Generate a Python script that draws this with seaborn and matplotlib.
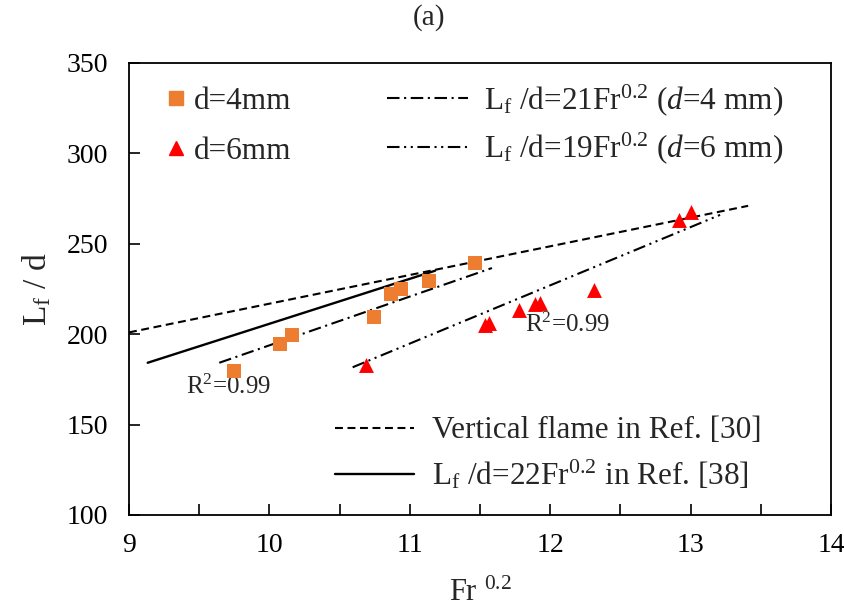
import numpy as np
import pandas as pd
import matplotlib
matplotlib.use("Agg")
import matplotlib.pyplot as plt
from matplotlib.lines import Line2D
import seaborn as sns

# ---------------- data ----------------
fr4 = [9.75, 10.075, 10.163, 10.745, 10.864, 10.937, 11.137, 11.464]
lf4 = [179.6, 194.7, 199.7, 209.5, 222.4, 224.8, 229.6, 239.5]

fr6 = [10.69, 11.536, 11.566, 11.78, 11.89, 11.93, 12.314, 12.92, 13.0]
lf6 = [183.0, 205.1, 206.0, 213.4, 216.7, 217.4, 224.4, 263.2, 267.8]

fit4_x = [9.643, 11.585]
fit4_y = [184.2, 236.6]
fit6_x = [10.593, 13.21]
fit6_y = [181.7, 266.0]
ref30_x = [9.0, 13.41]
ref30_y = [201.0, 271.0]
ref38_x = [9.133, 11.18]
ref38_y = [184.2, 235.1]

x_ticks = [9, 10, 11, 12, 13, 14]
y_ticks = [100, 150, 200, 250, 300, 350]

# ---------------- style ----------------
sns.set_style("ticks")
plt.rcParams["font.family"] = ["Liberation Serif", "DejaVu Serif"]
plt.rcParams["mathtext.fontset"] = "custom"
plt.rcParams["mathtext.rm"] = "Liberation Serif"
plt.rcParams["mathtext.it"] = "Liberation Serif:italic"
plt.rcParams["mathtext.bf"] = "Liberation Serif:bold"

ORANGE = "#ED7D31"
RED = "#FF0000"
LW = 1.5
ls_dash = (0, (3.8, 2.2))
ls_dd4 = (0, (6, 2.2, 1.0, 2.2))
ls_dd6 = (0, (6, 2.2, 1.0, 2.2, 1.0, 2.2))
LEGFS = 22.5

fig = plt.figure(figsize=(8.45, 6.13), dpi=100)
ax = fig.add_axes([129 / 845, 1 - 515 / 613, 702 / 845, 452 / 613])

df4 = pd.DataFrame({"x": fr4, "y": lf4})
df6 = pd.DataFrame({"x": fr6, "y": lf6})

# fitted / reference lines
sns.lineplot(x=ref30_x, y=ref30_y, ax=ax, color="black", lw=LW, linestyle=ls_dash)
sns.lineplot(x=ref38_x, y=ref38_y, ax=ax, color="black", lw=1.7, linestyle="-")
sns.lineplot(x=fit4_x, y=fit4_y, ax=ax, color="black", lw=LW, linestyle=ls_dd4)
sns.lineplot(x=fit6_x, y=fit6_y, ax=ax, color="black", lw=LW, linestyle=ls_dd6)

# data points
sns.scatterplot(data=df4, x="x", y="y", ax=ax, marker="s", s=115, color=ORANGE,
                edgecolor=ORANGE, linewidth=0, zorder=5)
sns.scatterplot(data=df6, x="x", y="y", ax=ax, marker="^", s=115, color=RED,
                edgecolor=RED, linewidth=0, zorder=5)

ax.set_xlim(9, 14)
ax.set_ylim(100, 350)
ax.set_xticks(x_ticks)
ax.set_xticks(np.arange(9.5, 14, 1.0), minor=True)
ax.set_yticks(y_ticks)
ax.tick_params(axis="both", which="both", direction="in", length=8, width=1.2,
               top=False, right=False, labelsize=20, colors="black")
ax.tick_params(axis="x", which="major", pad=13)
ax.tick_params(axis="y", which="major", pad=15)
for sp in ax.spines.values():
    sp.set_visible(True)
    sp.set_color("black")
    sp.set_linewidth(1.3)

ax.set_xlabel(r"Fr $^{0.2}$", fontsize=22, labelpad=15)
ax.set_ylabel(r"L$_\mathrm{f}$ / d", fontsize=24, labelpad=10)
fig.text(0.508, 0.972, "(a)", ha="center", va="center", fontsize=21)

# R^2 annotations
ax.text(9.406, 170.8, r"R$^2$=0.99", fontsize=18, ha="left", va="center")
ax.text(11.82, 205.1, r"R$^2$=0.99", fontsize=18, ha="left", va="center")

# legends
h1 = [Line2D([], [], marker="s", color=ORANGE, linestyle="none", markersize=10),
      Line2D([], [], marker="^", color=RED, linestyle="none", markersize=10)]
leg1 = ax.legend(h1, ["d=4mm", "d=6mm"], loc="upper left",
                 bbox_to_anchor=(0.056, 0.947), frameon=False, fontsize=LEGFS,
                 handlelength=0.5, handletextpad=0.31, borderpad=0,
                 borderaxespad=0, labelspacing=0.68)
ax.add_artist(leg1)

h2 = [Line2D([], [], color="black", lw=LW, linestyle=ls_dd4),
      Line2D([], [], color="black", lw=LW, linestyle=ls_dd6)]
leg2 = ax.legend(h2, [r"L$_\mathrm{f}$ /d=21Fr$^{0.2}$ ($d$=4 mm)",
                      r"L$_\mathrm{f}$ /d=19Fr$^{0.2}$ ($d$=6 mm)"],
                 loc="upper left", bbox_to_anchor=(0.3675, 0.9585), frameon=False,
                 fontsize=LEGFS, handlelength=2.6, handletextpad=0.5, borderpad=0,
                 borderaxespad=0, labelspacing=0.42)
ax.add_artist(leg2)

h3 = [Line2D([], [], color="black", lw=LW, linestyle=ls_dash),
      Line2D([], [], color="black", lw=1.7, linestyle="-")]
leg3 = ax.legend(h3, ["Vertical flame in Ref. [30]",
                      r"L$_\mathrm{f}$ /d=22Fr$^{0.2}$ in Ref. [38]"],
                 loc="upper left", bbox_to_anchor=(0.293, 0.218), frameon=False,
                 fontsize=LEGFS, handlelength=2.55, handletextpad=0.55, borderpad=0,
                 borderaxespad=0, labelspacing=0.4)

fig.savefig("out.png", dpi=100)
